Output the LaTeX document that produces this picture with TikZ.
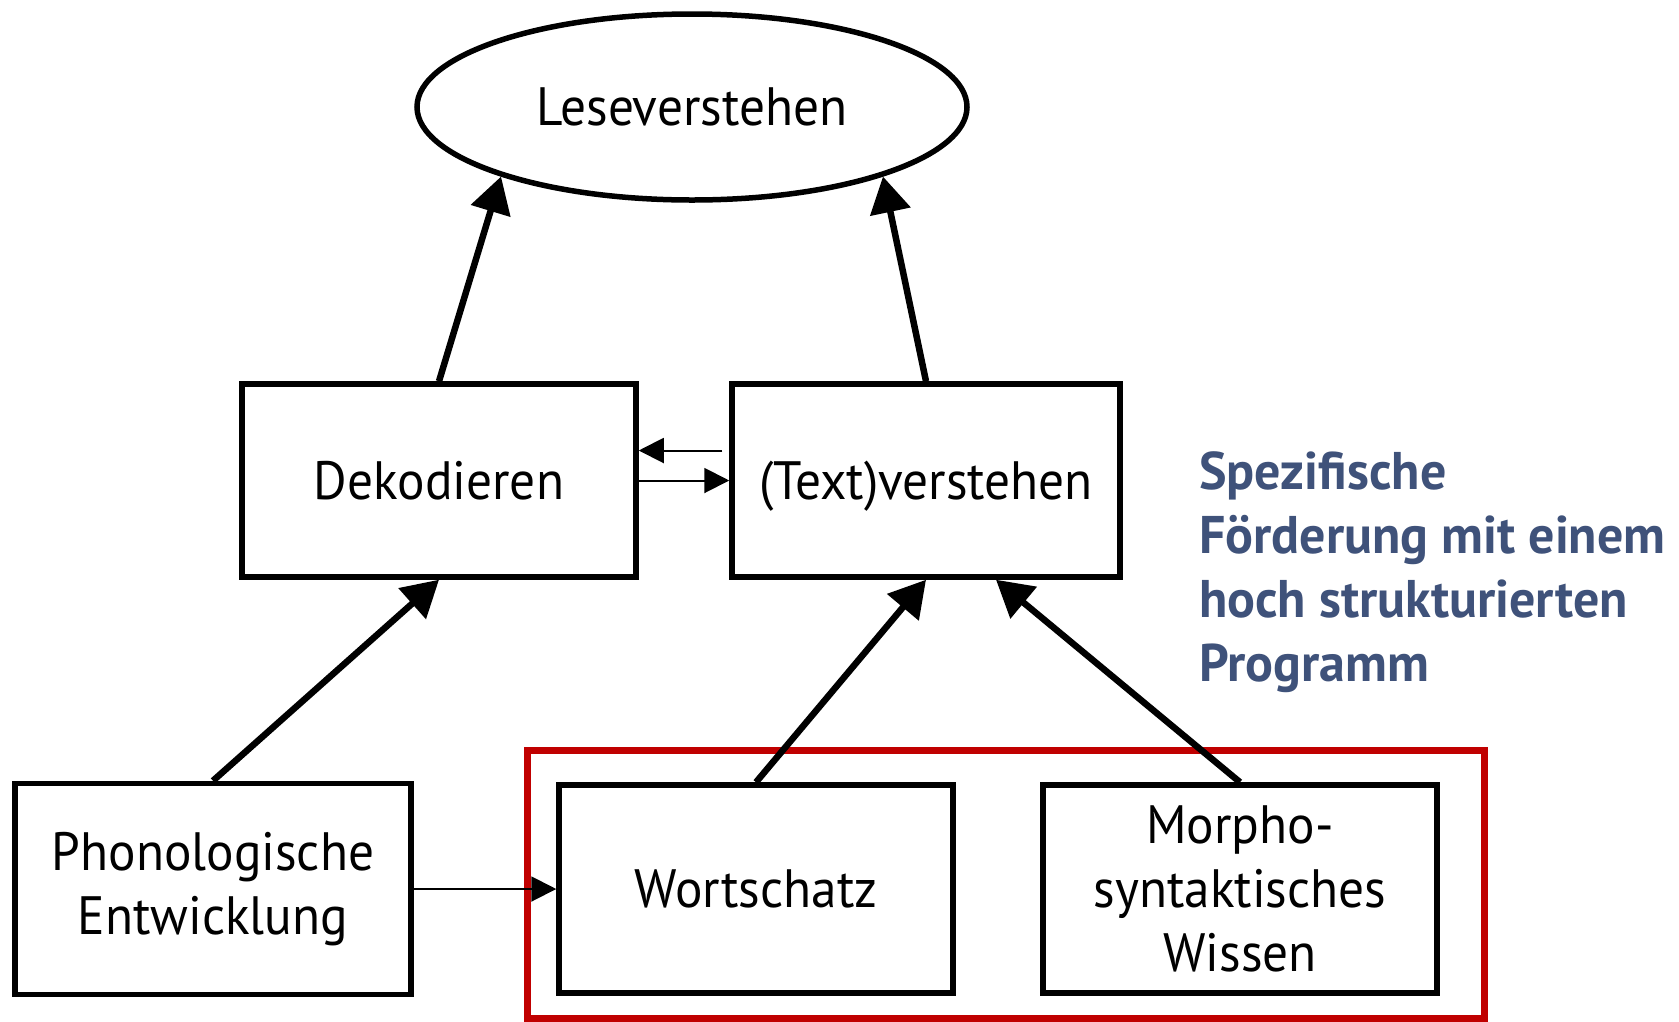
\documentclass[tikz,border=0pt]{standalone}
\usepackage{fontspec}
\setmainfont[FakeStretch=0.95]{PT Sans}
\newfontfamily\bluefont[FakeStretch=0.98]{PT Sans}
\usetikzlibrary{arrows.meta,calc,shapes.geometric}
\definecolor{blueT}{RGB}{63,82,122}
\definecolor{redF}{RGB}{192,0,0}
\begin{document}
\begin{tikzpicture}[x=1pt,y=-1pt,
  box/.style={draw, line width=5.5pt, inner sep=0pt, align=center,
    font=\fontsize{54}{64}\selectfont},
  bigarrow/.style={line width=6.5pt, -{Triangle[length=36pt,width=40pt]}},
  smallarrow/.style={line width=2pt, -{Triangle[length=25pt,width=25pt]}}]
\useasboundingbox[fill=white] (0,0) rectangle (1679,1021);

\node[draw, ellipse, line width=5.5pt, minimum width=550pt, minimum height=186pt,
  inner sep=0pt, font=\fontsize{54}{64}\selectfont] (lese) at (692,107) {Leseverstehen};

\node[box, minimum width=394pt, minimum height=193pt] (dek) at (439,480.5) {Dekodieren};
\node[box, minimum width=388pt, minimum height=193pt, text depth=0pt] (tv) at (926,480.5) {(Text)verstehen};

\node[draw=redF, line width=7pt, minimum width=957pt, minimum height=268pt,
  inner sep=0pt] (grp) at (1005.5,884) {};

\node[box, minimum width=396pt, minimum height=211pt] (phon) at (213,889)
  {Phonologische\\Entwicklung};
\node[box, minimum width=394pt, minimum height=208pt] (wort) at (756,889) {Wortschatz};
\node[box, minimum width=394pt, minimum height=208pt] (morph) at (1240,889)
  {Morpho-\\syntaktisches\\Wissen};

\node[anchor=west, align=left, text=blueT, inner sep=0pt,
  font=\bluefont\fontsize{53}{64}\bfseries\selectfont] (prog) at (1199,572)
  {Spezifische\\Förderung mit einem\\hoch strukturierten\\Programm};

\draw[bigarrow] (dek.north) -- (lese.-160);
\draw[bigarrow] (tv.north) -- (lese.-20);
\draw[bigarrow] (phon.north) -- (dek.south);
\draw[bigarrow] (wort.north) -- (tv.south);
\draw[bigarrow] (morph.north) -- ([xshift=70pt]tv.south);

\draw[smallarrow] ([xshift=-7pt,yshift=30pt]tv.west) -- ([yshift=30pt]dek.east);
\draw[smallarrow] (dek.east) -- (tv.west);
\draw[smallarrow] (phon.east) -- (wort.west);
\end{tikzpicture}
\end{document}
